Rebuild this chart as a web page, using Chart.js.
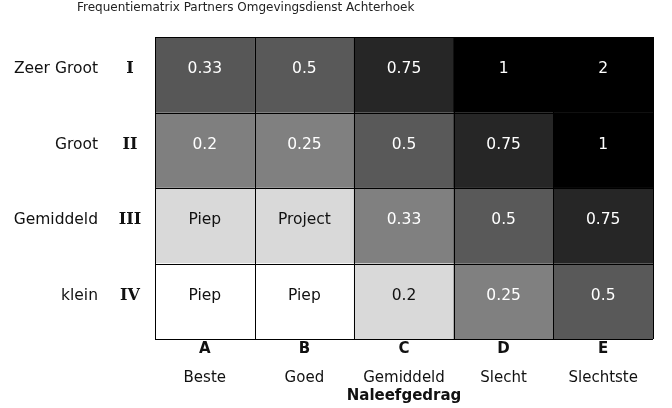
<!DOCTYPE html>
<html>
<head>
<meta charset="utf-8">
<script src="https://cdn.jsdelivr.net/npm/chart.js@4"></script>
<style>
  html, body { margin: 0; padding: 0; background: #fff; }
  #wrap { width: 672px; height: 408px; }
</style>
</head>
<body>
<div id="wrap"><canvas id="matrixChart" width="672" height="408"></canvas></div>
<script>
// kolommen (naleefgedrag)
var colLetters = ['A', 'B', 'C', 'D', 'E'];
var colNames = ['Beste', 'Goed', 'Gemiddeld', 'Slecht', 'Slechtste'];
// rijen van boven naar beneden
var rowNames = ['Zeer Groot', 'Groot', 'Gemiddeld', 'klein'];
var rowRoman = ['I', 'II', 'III', 'IV'];
// celwaarden per rij
var cellText = [
    ['0.33', '0.5', '0.75', '1', '2'],
    ['0.2', '0.25', '0.5', '0.75', '1'],
    ['Piep', 'Project', '0.33', '0.5', '0.75'],
    ['Piep', 'Piep', '0.2', '0.25', '0.5']
];
var cellColor = [
    ['#575757', '#595959', '#262626', '#000000', '#000000'],
    ['#7f7f7f', '#808080', '#595959', '#262626', '#000000'],
    ['#d9d9d9', '#d9d9d9', '#808080', '#595959', '#262626'],
    ['#ffffff', '#ffffff', '#d9d9d9', '#808080', '#595959']
];
var chartTitle = 'Frequentiematrix Partners Omgevingsdienst Achterhoek';
var xTitle = 'Naleefgedrag';

var FONT = '"DejaVu Sans", Verdana, sans-serif';

// onderste rij eerst voor de stapeling
var datasets = [];
for (var r = rowNames.length - 1; r >= 0; r--) {
    datasets.push({
        label: rowNames[r],
        data: colLetters.map(function () { return 1; }),
        backgroundColor: cellColor[r],
        borderWidth: 0
    });
}

// tekst en lijnen van de matrix
var matrixPlugin = {
    id: 'matrixPlugin',
    afterDatasetsDraw: function (chart) {
        var ctx = chart.ctx;
        var xs = chart.scales.x, ys = chart.scales.y;
        var area = chart.chartArea;
        var half = (xs.getPixelForValue(1) - xs.getPixelForValue(0)) / 2;
        var lift = 5.5; // tekst staat iets boven het midden van de cel

        ctx.save();
        // celteksten
        ctx.font = '15.5px ' + FONT;
        ctx.textAlign = 'center';
        ctx.textBaseline = 'middle';
        for (var r = 0; r < rowNames.length; r++) {
            var yMid = ys.getPixelForValue(rowNames.length - r - 0.5) - lift;
            for (var c = 0; c < colLetters.length; c++) {
                var bg = cellColor[r][c];
                ctx.fillStyle = (bg === '#ffffff' || bg === '#d9d9d9') ? '#111' : '#fff';
                ctx.fillText(cellText[r][c], xs.getPixelForValue(c), yMid);
            }
        }
        // rasterlijnen
        ctx.strokeStyle = '#000';
        ctx.lineWidth = 1;
        ctx.beginPath();
        for (var i = 0; i <= colLetters.length; i++) {
            var x = Math.round(xs.getPixelForValue(i) - half) + 0.5;
            ctx.moveTo(x, area.top);
            ctx.lineTo(x, area.bottom);
        }
        for (var j = 0; j <= rowNames.length; j++) {
            var y = Math.round(ys.getPixelForValue(j)) + 0.5;
            ctx.moveTo(area.left, y);
            ctx.lineTo(area.right, y);
        }
        ctx.stroke();

        // as-labels links
        ctx.fillStyle = '#111';
        for (var k = 0; k < rowNames.length; k++) {
            var ym = ys.getPixelForValue(rowNames.length - k - 0.5) - lift;
            ctx.font = '15.5px ' + FONT;
            ctx.textAlign = 'right';
            ctx.fillText(rowNames[k], 98, ym);
            ctx.font = 'bold 16px "DejaVu Serif", Georgia, serif';
            ctx.textAlign = 'center';
            ctx.fillText(rowRoman[k], 130, ym);
        }
        // as-labels onder
        ctx.textAlign = 'center';
        for (var m = 0; m < colLetters.length; m++) {
            var xm = xs.getPixelForValue(m);
            ctx.font = 'bold 15px ' + FONT;
            ctx.fillText(colLetters[m], xm, area.bottom + 10);
            ctx.font = '15px ' + FONT;
            ctx.fillText(colNames[m], xm, area.bottom + 39);
        }
        ctx.font = 'bold 15px ' + FONT;
        ctx.fillText(xTitle, (area.left + area.right) / 2, area.bottom + 57);

        // titel
        ctx.font = '12px ' + FONT;
        ctx.textAlign = 'left';
        ctx.fillStyle = '#222';
        ctx.fillText(chartTitle, 77, 8);
        ctx.restore();
    }
};

var ctx = document.getElementById('matrixChart').getContext('2d');
var matrixChart = new Chart(ctx, {
    type: 'bar',
    data: {
        labels: colLetters,
        datasets: datasets
    },
    options: {
        responsive: false,
        animation: false,
        events: [],
        categoryPercentage: 1,
        barPercentage: 1,
        layout: {
            padding: { left: 155, right: 19, top: 37, bottom: 69 }
        },
        scales: {
            x: { stacked: true, display: false },
            y: { stacked: true, display: false, min: 0, max: rowNames.length }
        },
        plugins: {
            legend: { display: false },
            tooltip: { enabled: false }
        }
    },
    plugins: [matrixPlugin]
});
</script>
</body>
</html>
